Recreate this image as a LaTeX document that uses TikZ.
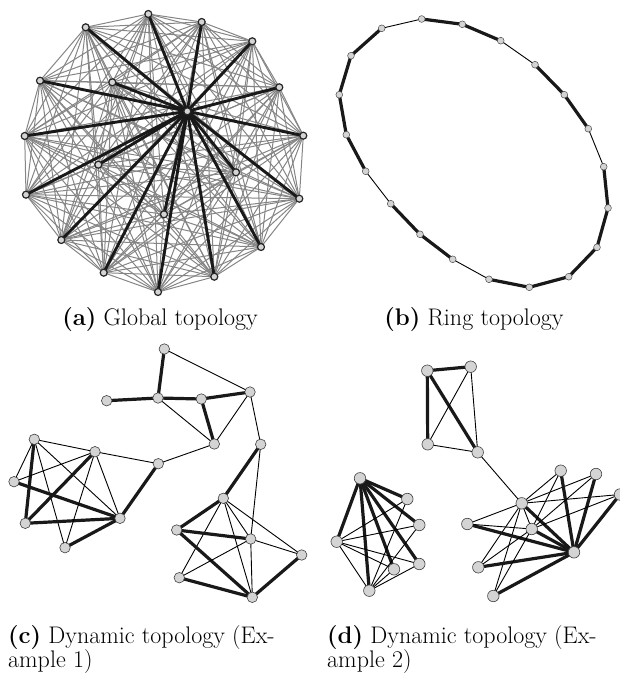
\documentclass[tikz,border=0pt]{standalone}
\usepackage{fontspec}
\pgfdeclarelayer{edges}
\pgfsetlayers{edges,main}
\definecolor{nodegray}{HTML}{D4D4D4}
\definecolor{edgegray}{HTML}{858585}
\tikzset{
  gnode/.style={circle, draw=black!85, line width=1.2pt, fill=nodegray, inner sep=0pt, minimum size=7pt},
  rnode/.style={circle, draw=black!70, line width=0.5pt, fill=nodegray, inner sep=0pt, minimum size=6.8pt},
  cnode/.style={circle, draw=black!75, line width=0.6pt, fill=nodegray, inner sep=0pt, minimum size=10.5pt},
  dnode/.style={circle, draw=black!75, line width=0.6pt, fill=nodegray, inner sep=0pt, minimum size=11.5pt},
  grayedge/.style={draw=edgegray, line width=1pt},
  blackedge/.style={draw=black!90, line width=2.9pt},
  thinedge/.style={draw=black, line width=0.9pt},
  thickedge/.style={draw=black!90, line width=3.2pt},
  captext/.style={font=\fontsize{24}{24}\selectfont, inner sep=0pt},
}
\begin{document}
\begin{tikzpicture}[x=1pt,y=-1pt]
\useasboundingbox (0,0) rectangle (619,676);
% ---------- (a) global ----------
\foreach \x/\y [count=\i] in {148.3/14, 201.7/22, 252.3/41.3, 279.3/87.3, 303.3/135.7,
  299.3/198.7, 261/247, 214.3/276.7, 158/292, 103.7/272.7, 61.3/240, 26/194.7,
  24.7/136, 40/80.7, 85.7/27.3, 112.3/82.3, 98.3/164.7, 236/172.3, 164/214.3, 187.3/111.3}
  \node[gnode] (g\i) at (\x,\y) {};
\begin{pgfonlayer}{edges}
\foreach \i in {1,...,19}{
  \foreach \j in {\i,...,20}{
    \ifnum\i<\j \draw[grayedge] (g\i.center) -- (g\j.center);\fi
  }
}
\foreach \i in {1,...,19} \draw[blackedge] (g20.center) -- (g\i.center);
\end{pgfonlayer}
% ---------- (b) ring ----------
\foreach \x/\y [count=\i] in {421.7/19, 462.3/24.3, 500.7/40.7, 535/64.7, 564.3/94.7,
  588.3/128.7, 603.7/166.7, 608/208, 597/247.3, 568.7/276.7, 529.3/287.3, 489/279.3,
  452.7/259.3, 420/234.3, 390.7/203.7, 365.7/171.3, 346.3/134.7, 339.3/94.7, 351/55.7, 381.7/28.3}
  \node[rnode] (r\i) at (\x,\y) {};
\begin{pgfonlayer}{edges}
\foreach \a/\b/\s in {1/2/thickedge, 2/3/thickedge, 3/4/thinedge, 4/5/thickedge,
  5/6/thickedge, 6/7/thinedge, 7/8/thickedge, 8/9/thickedge, 9/10/thickedge,
  10/11/thickedge, 11/12/thickedge, 12/13/thinedge, 13/14/thickedge, 14/15/thickedge,
  15/16/thinedge, 16/17/thickedge, 17/18/thickedge, 18/19/thickedge, 19/20/thickedge, 20/1/thinedge}
  \draw[\s] (r\a.center) -- (r\b.center);
\end{pgfonlayer}
% ---------- (c) dynamic 1 ----------
\foreach \n/\x/\y in {A/164.3/349, B/106.7/400.7, C/158/398, D/201.3/399, E/250/392,
  F/214.3/444, G/260.7/444.3, H/158.3/463.7, I/34.3/439.3, J/95/451.7, K/14/481.7,
  L/25.3/523.3, M/120/518.3, N/65/547.7, O/223.3/498.3, P/176.7/530, Q/250.7/539,
  R/301.7/555, S/179.3/577.7, T/252.3/597.3}
  \node[cnode] (c\n) at (\x,\y) {};
\begin{pgfonlayer}{edges}
\foreach \a/\b/\s in {A/C/thickedge, A/E/thinedge, B/C/thickedge, C/D/thickedge,
  D/E/thickedge, C/F/thinedge, D/F/thickedge, E/F/thinedge, E/G/thinedge, F/H/thinedge,
  H/J/thinedge, H/M/thickedge, G/O/thickedge, G/Q/thinedge,
  I/J/thinedge, I/K/thinedge, I/L/thickedge, I/M/thinedge, I/N/thinedge, K/J/thinedge,
  K/M/thickedge, L/J/thickedge, L/M/thickedge, J/M/thinedge, J/N/thinedge, N/M/thickedge,
  O/P/thickedge, O/Q/thinedge, O/R/thinedge, O/S/thinedge, O/T/thinedge, P/Q/thickedge,
  P/T/thickedge, S/Q/thinedge, S/T/thickedge, Q/R/thinedge, Q/T/thinedge, R/T/thickedge}
  \draw[\s] (c\a.center) -- (c\b.center);
\end{pgfonlayer}
% ---------- (d) dynamic 2 ----------
\foreach \n/\x/\y in {a/427.3/370.7, b/470.7/366.7, c/427.7/444.3, d/477.7/452.3,
  e/360/478.3, f/407.3/499, g/419.3/525, h/336.7/541.7, j/419.3/564, i/394/569.3,
  k/369.3/590.7, l/521.7/503.3, m/560.7/470.7, n/596/474, o/620/494.5, p/467.3/524,
  q/531.7/529, r/574/552.3, s/478.3/567.3, t/493.3/596}
  \node[dnode] (d\n) at (\x,\y) {};
\begin{pgfonlayer}{edges}
\foreach \a/\b/\s in {a/b/thickedge, a/c/thickedge, a/d/thickedge, b/c/thinedge,
  b/d/thinedge, c/d/thinedge, d/l/thinedge,
  e/f/thickedge, e/g/thickedge, e/h/thickedge, e/i/thickedge, e/j/thickedge, e/k/thickedge,
  h/f/thinedge, h/g/thinedge, h/i/thinedge, h/j/thinedge, h/k/thinedge,
  k/f/thinedge, k/g/thinedge, k/i/thinedge, k/j/thinedge,
  l/m/thinedge, l/n/thinedge, l/o/thinedge, l/p/thinedge, l/q/thinedge, l/s/thinedge,
  l/t/thinedge, l/r/thickedge,
  r/m/thickedge, r/n/thickedge, r/o/thickedge, r/p/thickedge, r/q/thickedge,
  r/s/thickedge, r/t/thickedge,
  q/m/thinedge, q/n/thinedge, q/o/thinedge, q/p/thinedge, q/s/thinedge, q/t/thinedge}
  \draw[\s] (d\a.center) -- (d\b.center);
\end{pgfonlayer}
% ---------- captions ----------
\node[captext, anchor=base] (capa) at (160,325) {\textbf{(a)} Global topology};
\node[captext, anchor=base] (capb) at (474,325) {\textbf{(b)} Ring topology};
\node[captext, anchor=base west] (capc1) at (8,643) {\textbf{(c)} Dynamic topology (Ex-};
\node[captext, anchor=base west] (capc2) at (8,667) {ample 1)};
\node[captext, anchor=base west] (capd1) at (327,643) {\textbf{(d)} Dynamic topology (Ex-};
\node[captext, anchor=base west] (capd2) at (327,667) {ample 2)};
\end{tikzpicture}
\end{document}
